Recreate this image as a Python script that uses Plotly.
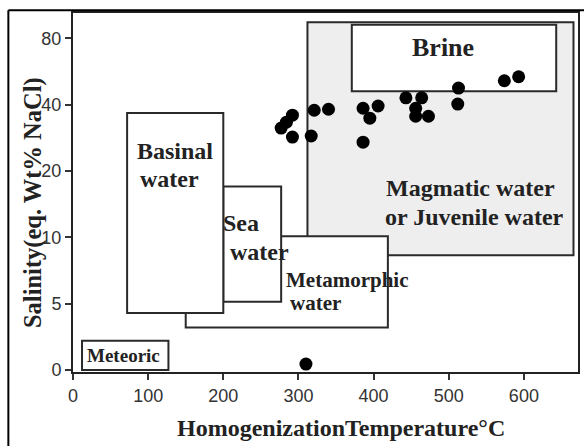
import numpy as np
import plotly.graph_objects as go

# ---- data ----
temp_c = [277, 284, 292, 292, 317, 321, 340, 386, 406, 395, 386,
          443, 464, 456, 456, 473, 513, 512, 574, 593, 310]
salinity = [31.3, 33.3, 35.8, 28.5, 28.8, 37.7, 38.1, 38.5, 39.4, 34.7, 27.0,
            42.9, 42.9, 38.5, 35.4, 35.4, 47.5, 40.2, 51.3, 53.5, 0.45]

y_tick_vals = [0, 5, 10, 20, 40, 80]
x_tick_vals = [0, 100, 200, 300, 400, 500, 600]

# fields: name, T min, T max, S min, S max
field_names = ["Magmatic", "Brine", "Metamorphic", "Sea", "Basinal", "Meteoric"]
field_tmin = [312, 371, 150, 200, 72, 12]
field_tmax = [666, 643, 419, 277, 200, 127]
field_smin = [8.3, 46, 3.2, 5.1, 4.3, 0]
field_smax = [94.5, 92, 10.1, 17.0, 36.6, 2.2]
field_fill = ["#eeeeee", "white", "white", "white", "white", "white"]


def spos(v):
    v = np.asarray(v, dtype=float)
    return np.where(v <= 5, v / 5.0, 1 + np.log2(np.maximum(v, 5) / 5.0))


fig = go.Figure()

fig.add_trace(go.Scatter(
    x=temp_c, y=spos(salinity), mode="markers",
    marker=dict(size=13, color="black"), showlegend=False))

shapes = []
for n, t0, t1, s0, s1, fc in zip(field_names, field_tmin, field_tmax,
                                 field_smin, field_smax, field_fill):
    shapes.append(dict(type="rect", xref="x", yref="y", x0=t0, x1=t1,
                       y0=float(spos(s0)), y1=float(spos(s1)),
                       line=dict(color="#2a2a2a", width=2), fillcolor=fc,
                       layer="below"))

# outer image frame (top and left)
shapes.append(dict(type="line", xref="paper", yref="paper",
                   x0=-0.128, x1=1.02, y0=1.008, y1=1.008,
                   line=dict(color="black", width=2)))
shapes.append(dict(type="line", xref="paper", yref="paper",
                   x0=-0.128, x1=-0.128, y0=1.008, y1=-0.25,
                   line=dict(color="black", width=2)))

SERIF = "Liberation Serif, Times New Roman, serif"


def lab(text, px, py, size=24):
    x = (px - 73) / 0.754
    y = (370 - py) / 66.4
    return dict(text="<b>%s</b>" % text, x=x, y=y, xref="x", yref="y",
                showarrow=False, font=dict(family=SERIF, size=size, color="#222"),
                xanchor="center", yanchor="middle")


annotations = [
    lab("Basinal", 175, 151),
    lab("water", 170, 179),
    lab("Sea", 242, 223),
    lab("water", 260, 252),
    lab("Metamorphic", 348, 280, 21),
    lab("water", 316, 303, 21),
    lab("Magmatic water", 472, 188),
    lab("or Juvenile water", 476, 217),
    lab("Brine", 444, 47, 26),
    lab("Meteoric", 124, 355, 19),
    # axis titles
    dict(text="<b>HomogenizationTemperature°C</b>", x=0.531, y=-0.156,
         xref="paper", yref="paper", showarrow=False,
         xanchor="center", yanchor="middle",
         font=dict(family=SERIF, size=24, color="#222")),
    dict(text="<b>Salinity(eq. Wt% NaCl)</b>", x=-0.079, y=0.471,
         xref="paper", yref="paper", showarrow=False, textangle=-90,
         xanchor="center", yanchor="middle",
         font=dict(family=SERIF, size=24.5, color="#222")),
]

fig.update_layout(
    width=584, height=446,
    margin=dict(l=73, r=4, t=13, b=74),
    paper_bgcolor="white", plot_bgcolor="white",
    shapes=shapes, annotations=annotations,
    showlegend=False,
)

fig.update_xaxes(
    range=[0, 672], tickvals=x_tick_vals, ticks="outside", ticklen=6,
    tickcolor="#333", tickwidth=1.5,
    showline=True, linecolor="#222", linewidth=2, mirror=True,
    showgrid=False, zeroline=False,
    tickfont=dict(family="Liberation Sans, Arial, sans-serif", size=18, color="#333"),
)
fig.update_yaxes(
    range=[-0.03, 5.38], tickvals=spos(y_tick_vals).tolist(),
    ticktext=[str(v) for v in y_tick_vals], ticks="outside", ticklen=6,
    tickcolor="#333", tickwidth=1.5,
    showline=True, linecolor="#222", linewidth=2, mirror=True,
    showgrid=False, zeroline=False,
    tickfont=dict(family="Liberation Sans, Arial, sans-serif", size=18, color="#333"),
)

fig.write_html("out.html")
